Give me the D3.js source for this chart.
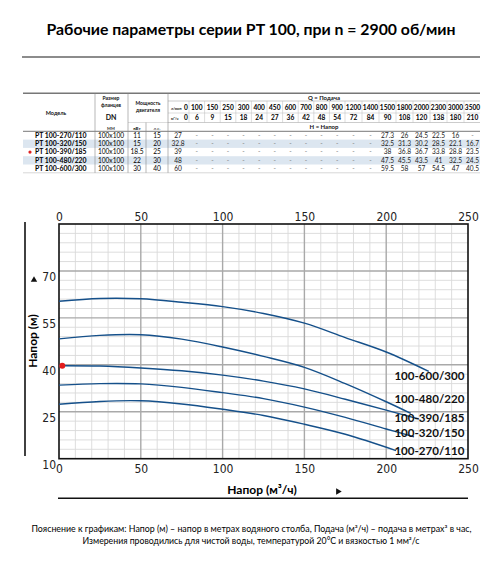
<!DOCTYPE html>
<html>
<head>
<meta charset="utf-8">
<script src="https://cdn.jsdelivr.net/npm/d3@7"></script>
<style>
  body { margin: 0; background: #fff; }
  svg { display: block; }
</style>
</head>
<body>
<div id="chart"></div>
<script>
// table data
const flowLpm = [0, 100, 150, 250, 300, 400, 450, 600, 700, 800, 900, 1200, 1400, 1500, 1800, 2000, 2300, 3000, 3500];
const flowM3h = [0, 6, 9, 15, 18, 24, 27, 36, 42, 48, 54, 72, 84, 90, 108, 120, 138, 180, 210];
const models = ["PT 100-270/110", "PT 100-320/150", "PT 100-390/185", "PT 100-480/220", "PT 100-600/300"];
const flange = ["100x100", "100x100", "100x100", "100x100", "100x100"];
const powerKw = ["11", "15", "18.5", "22", "30"];
const powerHp = ["15", "20", "25", "30", "40"];
const head270 = ["27", "-", "-", "-", "-", "-", "-", "-", "-", "-", "-", "-", "-", "27.3", "26", "24.5", "22.5", "16", "-"];
const head320 = ["32.8", "-", "-", "-", "-", "-", "-", "-", "-", "-", "-", "-", "-", "32.5", "31.3", "30.2", "28.5", "22.1", "16.7"];
const head390 = ["39", "-", "-", "-", "-", "-", "-", "-", "-", "-", "-", "-", "-", "38", "36.8", "36.7", "33.8", "28.8", "23.5"];
const head480 = ["48", "-", "-", "-", "-", "-", "-", "-", "-", "-", "-", "-", "-", "47.5", "45.5", "43.5", "41", "32.5", "24.5"];
const head600 = ["60", "-", "-", "-", "-", "-", "-", "-", "-", "-", "-", "-", "-", "59.5", "58", "57", "54.5", "47", "40.5"];

// curve data (Q m3/h, H m)
const curveNames = ["100-600/300", "100-480/220", "100-390/185", "100-320/150", "100-270/110"];
const q600 = [0, 25, 50, 75, 100, 125, 150, 175, 200, 226];
const h600 = [60.3, 61.2, 61.1, 60.0, 58.6, 56.4, 53.3, 48.7, 44.1, 37.9];
const q480 = [0, 25, 50, 75, 100, 125, 150, 175, 200, 215];
const h480 = [48.3, 49.4, 49.6, 48.2, 45.7, 42.7, 39.2, 34.0, 28.2, 24.5];
const q390 = [0, 25, 50, 75, 100, 125, 150, 175, 200, 220];
const h390 = [39.7, 39.6, 39.0, 38.1, 36.7, 34.8, 32.3, 29.0, 25.5, 22.7];
const q320 = [0, 25, 50, 75, 100, 125, 150, 175, 200, 217];
const h320 = [33.5, 34.0, 33.9, 32.8, 31.1, 29.2, 26.5, 23.2, 19.5, 17.0];
const q270 = [0, 25, 50, 75, 100, 125, 150, 175, 206];
const h270 = [27.4, 28.3, 28.5, 27.5, 25.8, 23.8, 21.0, 17.8, 12.6];
const xTicks = [0, 50, 100, 150, 200, 250];
const yTicks = [10, 25, 40, 55, 70];

const W = 503, H = 567;
const svg = d3.select("#chart").append("svg")
    .attr("width", W)
    .attr("height", H)
    .style("font-family", "Lato, 'Open Sans', sans-serif");

// title
svg.append("text")
    .attr("x", 251)
    .attr("y", 34.5)
    .attr("text-anchor", "middle")
    .attr("textLength", 409)
    .attr("lengthAdjust", "spacingAndGlyphs")
    .style("font-size", "16px")
    .style("font-weight", "bold")
    .text("Рабочие параметры серии PT 100, при n = 2900 об/мин");

svg.append("line")
    .attr("x1", 22).attr("x2", 480)
    .attr("y1", 57).attr("y2", 57)
    .attr("stroke", "#666").attr("stroke-width", 1.3);

// ---------- table ----------
const tbl = svg.append("g");
const tLeft = 23, tRight = 480;
const tTop = 93.3, hdrBottom = 131.3, rowH = 8.3;
const tBottom = hdrBottom + rowH * models.length;

// column centres for the flow columns
const colW = d => 11.4 + 1.4 * String(d).length;
let cx = 189;
const colX = [178];
flowLpm.slice(1).forEach(d => { colX.push(cx + colW(d) / 2); cx += colW(d); });
const colEdges = [168, 189];
cx = 189;
flowLpm.slice(1).forEach(d => { cx += colW(d); colEdges.push(cx); });

const rows = [head270, head320, head390, head480, head600];

// stripes
tbl.selectAll("rect.stripe")
    .data(models)
    .join("rect")
    .attr("x", tLeft)
    .attr("y", (d, i) => hdrBottom + i * rowH)
    .attr("width", tRight - tLeft)
    .attr("height", rowH)
    .attr("fill", (d, i) => i % 2 === 1 ? "#dce6f0" : "none");

function hline(y, x1, x2, color, w) {
    tbl.append("line").attr("x1", x1).attr("x2", x2).attr("y1", y).attr("y2", y)
        .attr("stroke", color).attr("stroke-width", w);
}
function vline(x, y1, y2, color, w) {
    tbl.append("line").attr("x1", x).attr("x2", x).attr("y1", y1).attr("y2", y2)
        .attr("stroke", color).attr("stroke-width", w);
}

hline(tTop, tLeft, tRight, "#777", 1.6);
hline(101, 168, tRight, "#aaa", 0.6);
hline(113, 168, tRight, "#bbb", 0.5);
hline(122.5, 168, tRight, "#aaa", 0.6);
hline(122.5, 128, 168, "#bbb", 0.5);
hline(hdrBottom, tLeft, tRight, "#555", 0.8);
hline(tBottom, tLeft, tRight, "#bbb", 0.6);
[95, 128, 168].forEach(x => vline(x, tTop, tBottom, "#888", 0.6));
vline(146, 122.5, tBottom, "#888", 0.6);
colEdges.slice(1, -1).forEach(x => vline(x, 101, 122.5, "#bbb", 0.5));

function txt(x, y, s, size, anchor, weight, color) {
    tbl.append("text").attr("x", x).attr("y", y)
        .attr("text-anchor", anchor || "middle")
        .style("font-size", size + "px")
        .style("font-weight", weight || "bold")
        .attr("fill", color || "#111")
        .text(s);
}

txt(56, 114.5, "Модель", 5.5);
txt(111, 100, "Размер", 5);
txt(111, 106.5, "фланцев", 5);
txt(111, 119.5, "DN", 7);
txt(111, 129.5, "мм", 5.5, "middle", "normal");
txt(148, 105, "Мощность", 5);
txt(148, 111.5, "двигателя", 5);
txt(137, 129.5, "кВт", 4.5);
txt(157, 129.5, "л.с.", 4.5, "middle", "normal");
txt(324, 99.6, "Q = Подача", 6);
txt(324, 129.4, "H = Напор", 6);
txt(171, 110, "л/мин", 3.6, "start");
txt(171, 119.8, "м³/ч", 3.6, "start");

tbl.selectAll("text.lpm")
    .data(flowLpm)
    .join("text")
    .attr("x", (d, i) => i === 0 ? 186 : colX[i])
    .attr("y", 110.3)
    .attr("text-anchor", "middle")
    .style("font-size", "6.6px")
    .style("font-weight", "bold")
    .text(d => d);

tbl.selectAll("text.m3h")
    .data(flowM3h)
    .join("text")
    .attr("x", (d, i) => i === 0 ? 186 : colX[i])
    .attr("y", 120.2)
    .attr("text-anchor", "middle")
    .style("font-size", "6.6px")
    .style("font-weight", "bold")
    .text(d => d);

const rowG = tbl.selectAll("g.row")
    .data(models)
    .join("g")
    .attr("transform", (d, i) => "translate(0," + (hdrBottom + i * rowH + 6.4) + ")");

rowG.append("text").attr("x", 35).style("font-size", "6.9px").style("font-weight", "bold")
    .text(d => d);
rowG.append("text").attr("x", 111).attr("text-anchor", "middle").style("font-size", "6.6px")
    .text((d, i) => flange[i]);
rowG.append("text").attr("x", 137).attr("text-anchor", "middle").style("font-size", "6.6px")
    .text((d, i) => powerKw[i]);
rowG.append("text").attr("x", 157).attr("text-anchor", "middle").style("font-size", "6.6px")
    .text((d, i) => powerHp[i]);
rowG.each(function (d, i) {
    d3.select(this).selectAll("text.v")
        .data(rows[i])
        .join("text")
        .attr("x", (v, j) => colX[j])
        .attr("text-anchor", "middle")
        .style("font-size", "6.6px")
        .attr("fill", v => v === "-" ? "#888" : "#222")
        .text(v => v);
});
tbl.append("circle")
    .attr("cx", 30).attr("cy", hdrBottom + 2 * rowH + rowH / 2)
    .attr("r", 1.6).attr("fill", "#e02020");

// ---------- chart ----------
const x = d3.scaleLinear().domain([0, 250]).range([59, 468]);
const y = d3.scaleLinear().domain([10, 85]).range([458.7, 224]);
const g = svg.append("g");

const minorX = d3.range(10, 250, 10).filter(d => d % 50 !== 0);
const minorY = d3.range(13, 85, 3).filter(d => (d - 10) % 15 !== 0);

g.selectAll("line.mx").data(minorX).join("line")
    .attr("x1", d => x(d)).attr("x2", d => x(d)).attr("y1", y(10)).attr("y2", y(85))
    .attr("stroke", "#d9d9d9").attr("stroke-width", 0.9);
g.selectAll("line.my").data(minorY).join("line")
    .attr("x1", x(0)).attr("x2", x(250)).attr("y1", d => y(d)).attr("y2", d => y(d))
    .attr("stroke", "#d9d9d9").attr("stroke-width", 0.9);
g.selectAll("line.Mx").data(xTicks.slice(1, -1)).join("line")
    .attr("x1", d => x(d)).attr("x2", d => x(d)).attr("y1", y(10)).attr("y2", y(85))
    .attr("stroke", "#a9a9a9").attr("stroke-width", 1.4);
g.selectAll("line.My").data(yTicks.slice(1)).join("line")
    .attr("x1", x(0)).attr("x2", x(250)).attr("y1", d => y(d)).attr("y2", d => y(d))
    .attr("stroke", "#a9a9a9").attr("stroke-width", 1.4);

g.append("rect")
    .attr("x", x(0)).attr("y", y(85))
    .attr("width", x(250) - x(0)).attr("height", y(10) - y(85))
    .attr("fill", "none").attr("stroke", "#111").attr("stroke-width", 1.6);

// axes (labels only)
const tickFont = "'DejaVu Sans Condensed', 'DejaVu Sans', sans-serif";
function styleAxis(sel) {
    sel.select(".domain").remove();
    sel.selectAll("line").remove();
    sel.selectAll("text").style("font-family", tickFont).style("font-size", "12px").attr("fill", "#222");
}
svg.append("g").attr("transform", "translate(0," + y(85) + ")")
    .call(d3.axisTop(x).tickValues(xTicks).tickSize(0).tickPadding(3))
    .call(styleAxis);
svg.append("g").attr("transform", "translate(0," + (y(10) + 5) + ")")
    .call(d3.axisBottom(x).tickValues(xTicks).tickSize(0).tickPadding(1))
    .call(styleAxis);
svg.append("g").attr("transform", "translate(" + (x(0) - 2) + ",5.5)")
    .call(d3.axisLeft(y).tickValues(yTicks).tickSize(0).tickPadding(1))
    .call(styleAxis);

// curves
const curves = [[q600, h600], [q480, h480], [q390, h390], [q320, h320], [q270, h270]];
const line = d3.line()
    .x(d => x(d[0]))
    .y(d => y(d[1]))
    .curve(d3.curveCatmullRom.alpha(0.5));
g.selectAll("path.curve")
    .data(curves)
    .join("path")
    .attr("d", c => line(c[0].map((q, i) => [q, c[1][i]])))
    .attr("fill", "none")
    .attr("stroke", "#15508a")
    .attr("stroke-width", 1.4);

// curve labels
const labelH = [36.4, 29.2, 23.0, 18.2, 12.5];
g.selectAll("text.lbl")
    .data(curveNames)
    .join("text")
    .attr("x", x(205))
    .attr("y", (d, i) => y(labelH[i]) + 4.2)
    .attr("textLength", 70)
    .attr("lengthAdjust", "spacingAndGlyphs")
    .style("font-size", "12px")
    .style("font-weight", "bold")
    .attr("fill", "#111")
    .text(d => d);

// red point on 390/185
g.append("circle")
    .attr("cx", x(2)).attr("cy", y(h390[0]))
    .attr("r", 3).attr("fill", "#e21c1c");

// outer axis lines, arrows, titles
svg.append("line").attr("x1", 25).attr("x2", 25).attr("y1", 222).attr("y2", 456)
    .attr("stroke", "#111").attr("stroke-width", 1.6);
svg.append("line").attr("x1", 58).attr("x2", 468).attr("y1", 498.3).attr("y2", 498.3)
    .attr("stroke", "#111").attr("stroke-width", 1.6);
svg.append("path").attr("d", d3.symbol(d3.symbolTriangle, 18))
    .attr("transform", "translate(34,280)").attr("fill", "#111");
svg.append("path").attr("d", d3.symbol(d3.symbolTriangle, 18))
    .attr("transform", "translate(338,491.5) rotate(90)").attr("fill", "#111");

svg.append("text")
    .attr("transform", "translate(37,341) rotate(-90)")
    .attr("text-anchor", "middle")
    .style("font-size", "12px").style("font-weight", "bold")
    .text("Напор (м)");
svg.append("text")
    .attr("x", 262).attr("y", 493.5)
    .attr("text-anchor", "middle")
    .style("font-size", "12px").style("font-weight", "bold")
    .text("Напор (м³/ч)");

// footer notes
svg.append("text")
    .attr("x", 251.5).attr("y", 532)
    .attr("text-anchor", "middle")
    .attr("textLength", 440).attr("lengthAdjust", "spacingAndGlyphs")
    .style("font-size", "8.6px")
    .text("Пояснение к графикам: Напор (м) – напор в метрах водяного столба, Подача (м³/ч) – подача в метрах³ в час,");
svg.append("text")
    .attr("x", 251).attr("y", 544)
    .attr("text-anchor", "middle")
    .attr("textLength", 337).attr("lengthAdjust", "spacingAndGlyphs")
    .style("font-size", "8.6px")
    .text("Измерения проводились для чистой воды, температурой 20°С и вязкостью 1 мм²/с");
</script>
</body>
</html>
